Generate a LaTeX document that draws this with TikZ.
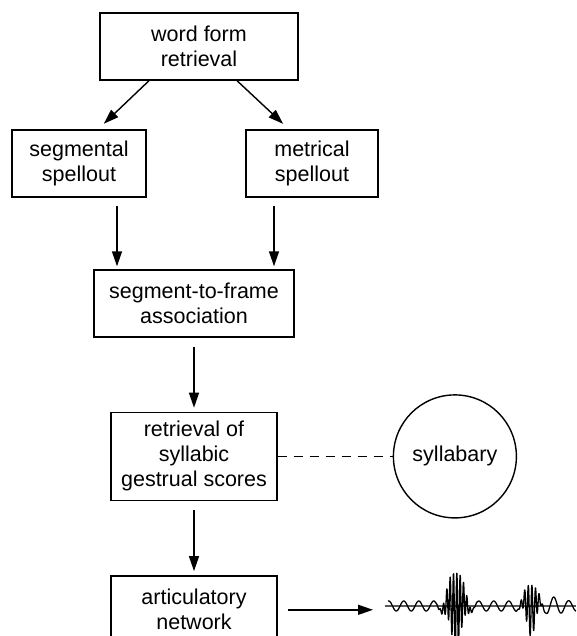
\documentclass[tikz,border=0pt]{standalone}
\usepackage{fontspec}
\setmainfont{Liberation Sans}
\usetikzlibrary{arrows.meta, positioning}

\begin{document}
\begin{tikzpicture}[
    x=1pt, y=1pt,
    box/.style={rectangle, draw, line width=1.4pt, align=center, inner sep=0pt, font=\fontsize{21.5}{25}\selectfont},
    arrow/.style={-{Triangle[length=15pt, width=10pt]}, line width=1.4pt},
    link/.style={line width=1.4pt, dash pattern=on 9pt off 7pt},
    node distance=74pt
  ]
    \path[use as bounding box] (0,-636) rectangle (576,0);
    \clip (0,-636) rectangle (576,0);

    \node[box, minimum width=198pt, minimum height=67pt] (wf) at (199,-46.5) {word form\\retrieval};
    \node[box, minimum width=134pt, minimum height=67pt] (seg) at (79,-163.5) {segmental\\spellout};
    \node[box, minimum width=132pt, minimum height=67pt] (met) at (312,-163.5) {metrical\\spellout};
    \node[box, minimum width=200pt, minimum height=67pt] (s2f) at (194,-303.5) {segment-to-frame\\association};
    \node[box, minimum width=166pt, minimum height=88pt, below=of s2f] (ret) {retrieval of\\syllabic\\gestrual scores};
    \node[box, circle, minimum size=123pt, right=115pt of ret] (syl) {syllabary};
    \node[box, minimum width=166pt, minimum height=68pt, below=of ret] (art) {articulatory\\network};
    \coordinate (wave) at (385,-606);

    \draw[arrow, shorten >=8pt] ([xshift=-50pt]wf.south) -- ([xshift=19pt]seg.north);
    \draw[arrow, shorten >=8pt] ([xshift=38pt]wf.south) -- ([xshift=-23pt]met.north);
    \draw[arrow, shorten <=8pt, shorten >=3pt] ([xshift=38pt]seg.south) -- ([xshift=-77pt]s2f.north);
    \draw[arrow, shorten <=8pt, shorten >=3pt] ([xshift=-38pt]met.south) -- ([xshift=80pt]s2f.north);
    \draw[arrow, shorten <=9pt, shorten >=4pt] (s2f) -- (ret);
    \draw[arrow, shorten <=9pt, shorten >=4pt] (ret) -- (art);
    \draw[link] (ret) -- (syl);
    \draw[arrow, shorten <=10pt, shorten >=12pt] (art.east) -- (art.east -| wave);

    % speech signal
    \begin{scope}[shift={(wave)}]
      \draw[line width=1.5pt, black!65] (0,0) -- (191,0);
      \draw[line width=1.3pt, line join=round] plot[domain=3:191, samples=700]
        (\x, {(5+4*exp(max(-8,-((\x-168)/10)^2)))*sin(24*\x)
              + 38*exp(max(-8,-((\x-71)/9)^2))*sin(108*(\x-71))
              + 26*exp(max(-8,-((\x-146)/7)^2))*sin(100*(\x-146))});
    \end{scope}
\end{tikzpicture}
\end{document}
